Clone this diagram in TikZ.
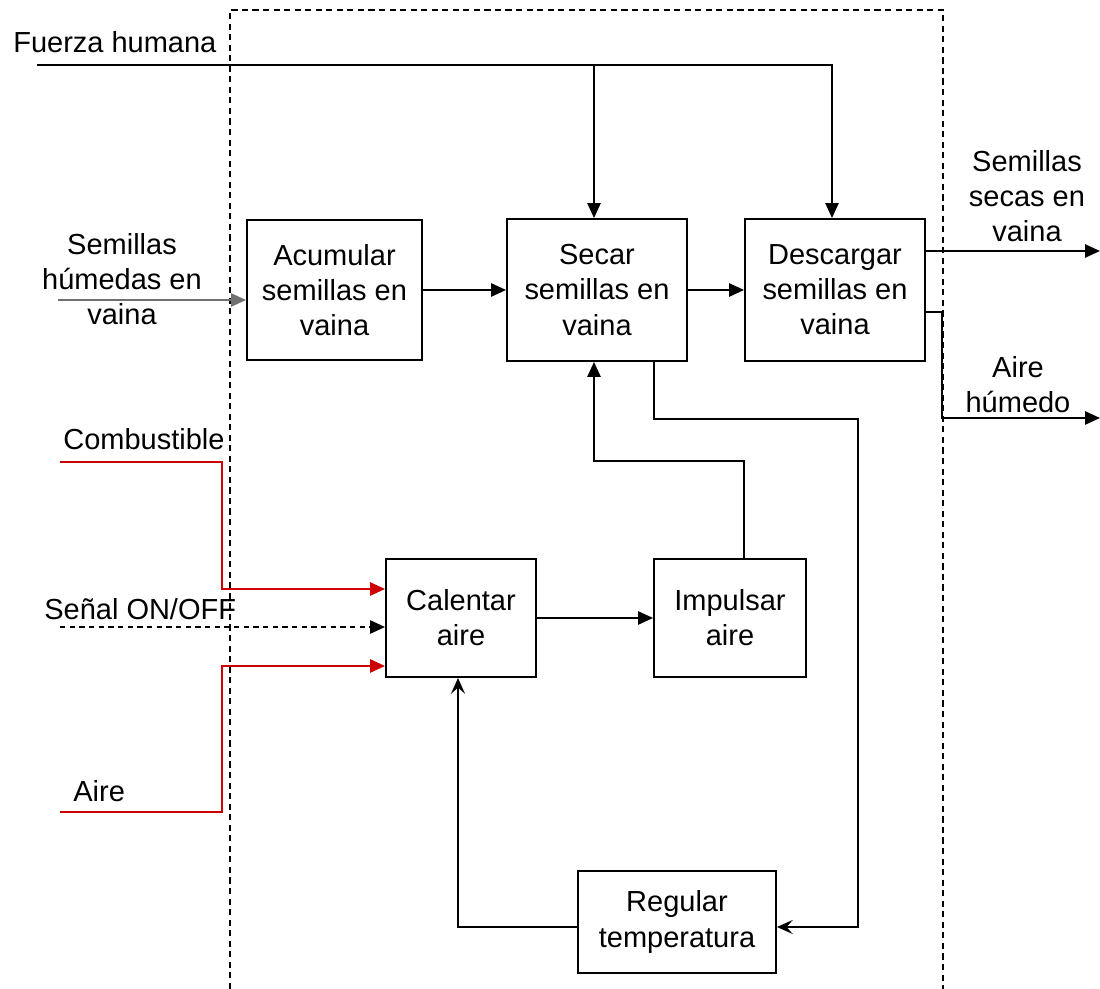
\documentclass[tikz,border=0pt]{standalone}
\usepackage{fontspec}
\setmainfont{Liberation Sans}
\usetikzlibrary{arrows.meta}
\definecolor{flowred}{HTML}{CC0000}
\definecolor{flowgray}{HTML}{707070}
\begin{document}
\begin{tikzpicture}[x=0.02cm,y=-0.02cm,
  font=\fontsize{16.5}{20}\selectfont,
  box/.style={draw, line width=1.1pt, align=center, inner sep=0pt},
  lbl/.style={align=center, inner sep=0pt},
  flow/.style={line width=1.1pt, -{Triangle[length=8.5pt,width=7.5pt]}},
  flowS/.style={line width=1.1pt, -{Stealth[length=9pt,width=8pt,inset=3.5pt]}},
  redflow/.style={flow, draw=flowred},
  dashflow/.style={flow, dash pattern=on 3pt off 2.5pt},
  boundary/.style={line width=0.8pt, dash pattern=on 3.5pt off 2.5pt}]
\useasboundingbox (0,0) rectangle (1100,989);

% system boundary
\draw[boundary] (230,989) -- (230,10) -- (943,10) -- (943,989);

% functions
\node[box, minimum width=3.5cm, minimum height=2.8cm] (acum) at (334.5,290) {Acumular\\semillas en\\vaina};
\node[box, minimum width=3.6cm, minimum height=2.84cm] (secar) at (597,290) {Secar\\semillas en\\vaina};
\node[box, minimum width=3.6cm, minimum height=2.84cm] (desc) at (835,290) {Descargar\\semillas en\\vaina};
\node[box, minimum width=3.0cm, minimum height=2.36cm] (cal) at (461,618) {Calentar\\aire};
\node[box, minimum width=3.04cm, minimum height=2.36cm] (imp) at (730,618) {Impulsar\\aire};
\node[box, minimum width=3.96cm, minimum height=2.04cm] (reg) at (677,922) {Regular\\temperatura};

% flow labels
\node[lbl, anchor=base west] (lfh) at (13,53) {Fuerza humana};
\node[lbl] (lhum) at (122,279) {Semillas\\húmedas en\\vaina};
\node[lbl] (lsec) at (1027,196) {Semillas\\secas en\\vaina};
\node[lbl] (lah) at (1018,385) {Aire\\húmedo};
\node[lbl, anchor=base west] (lcomb) at (63,450) {Combustible};
\node[lbl, anchor=base west] (lsen) at (44,620) {Señal ON/OFF};
\node[lbl, anchor=base west] (laire) at (73,802) {Aire};

% human effort
\coordinate (fh) at (37,65);
\coordinate (fj1) at (594,65);
\coordinate (fj2) at (832,65);
\draw[flow] (fh) -- (fj2) -- (fj2 |- desc.north);
\draw[flow] (fj1) -- (fj1 |- secar.north);

% material flow
\coordinate (hum) at (58,300);
\draw[flow, draw=flowgray] (hum) -- (hum -| acum.west);
\draw[flow] (acum) -- (secar);
\draw[flow] (secar) -- (desc);
\coordinate (sout) at (1100,251);
\draw[flow] (sout -| desc.east) -- (sout);
\coordinate (ab) at (942,312);
\coordinate (aout) at (1100,418);
\draw[flow] (ab -| desc.east) -- (ab) -- (ab |- aout) -- (aout);

% hot air loop
\draw[flow] (cal) -- (imp);
\coordinate (i1) at (744,461);
\coordinate (i2) at (594,461);
\draw[flow] (i1 |- imp.north) -- (i1) -- (i2) -- (i2 |- secar.south);
\coordinate (s1) at (654,419);
\coordinate (s2) at (858,419);
\coordinate (r1) at (858,927);
\coordinate (r2) at (458,927);
\draw[flowS] (s1 |- secar.south) -- (s1) -- (s2) -- (r1) -- (r1 -| reg.east);
\draw[flowS] (r2 -| reg.west) -- (r2) -- (r2 |- cal.south);

% heater inputs
\coordinate (c0) at (60,462);
\coordinate (c1) at (222,462);
\coordinate (c2) at (222,589);
\draw[redflow] (c0) -- (c1) -- (c2) -- (c2 -| cal.west);
\coordinate (d0) at (60,627);
\draw[dashflow] (d0) -- (d0 -| cal.west);
\coordinate (a0) at (60,812);
\coordinate (a1) at (222,812);
\coordinate (a2) at (222,666);
\draw[redflow] (a0) -- (a1) -- (a2) -- (a2 -| cal.west);
\end{tikzpicture}
\end{document}
